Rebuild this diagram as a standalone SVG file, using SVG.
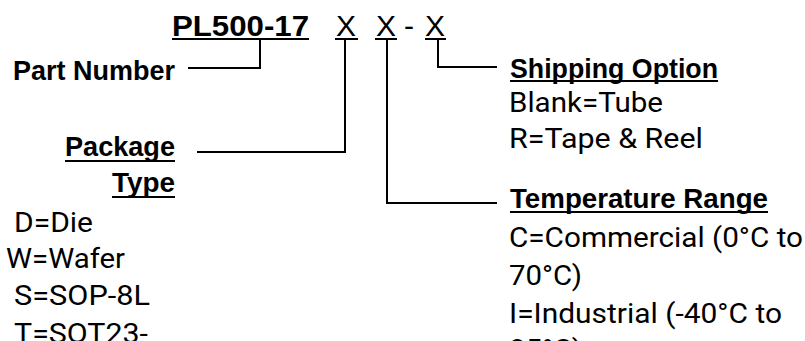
<svg xmlns="http://www.w3.org/2000/svg" width="805" height="341" viewBox="0 0 805 341">
<style>
.b{font-family:"Liberation Sans",Arial,sans-serif;font-weight:bold;font-size:28px;fill:#000}
.t{font-family:"Liberation Sans",Arial,sans-serif;font-weight:bold;font-size:30px;fill:#000}
.x{font-family:"Liberation Sans",Arial,sans-serif;font-size:30px;fill:#000}
.r{font-family:Roboto,"Liberation Sans",Arial,sans-serif;font-size:28px;fill:#000}
.u{stroke:#000;stroke-width:2;fill:none}
.c{stroke:#000;stroke-width:2;fill:none}
</style>
<rect width="805" height="341" fill="#fff"/>
<g id="title">
<text class="t" x="172" y="36" textLength="137" lengthAdjust="spacingAndGlyphs">PL500-17</text>
<text class="x" x="336" y="36">X</text>
<text class="x" x="376" y="36">X</text>
<text class="x" x="404" y="36">-</text>
<text class="x" x="425" y="36">X</text>
<line class="u" x1="172" y1="39" x2="309" y2="39"/>
<line class="u" x1="335" y1="39" x2="358" y2="39"/>
<line class="u" x1="375" y1="39" x2="397" y2="39"/>
<line class="u" x1="425" y1="39" x2="446" y2="39"/>
</g>
<g id="connectors">
<path class="c" d="M260 39V68H188"/>
<path class="c" d="M345 39V152H197"/>
<path class="c" d="M387 39V203H497"/>
<path class="c" d="M438 39V67H497"/>
</g>
<g id="part-number">
<text class="b" x="175" y="80" text-anchor="end" textLength="162" lengthAdjust="spacingAndGlyphs">Part Number</text>
</g>
<g id="package-type">
<text class="b" x="175" y="156" text-anchor="end" textLength="110" lengthAdjust="spacingAndGlyphs">Package</text>
<line class="u" x1="65" y1="161" x2="175" y2="161"/>
<text class="b" x="175" y="192" text-anchor="end" textLength="63" lengthAdjust="spacingAndGlyphs">Type</text>
<line class="u" x1="112" y1="197" x2="175" y2="197"/>
<text class="r" x="14" y="232" textLength="79" lengthAdjust="spacingAndGlyphs">D=Die</text>
<text class="r" x="6" y="268" textLength="119" lengthAdjust="spacingAndGlyphs">W=Wafer</text>
<text class="r" x="14" y="305" textLength="136" lengthAdjust="spacingAndGlyphs">S=SOP-8L</text>
<text class="r" x="14" y="343" textLength="134" lengthAdjust="spacingAndGlyphs">T=SOT23-</text>
</g>
<g id="shipping-option">
<text class="b" x="510" y="78" textLength="208" lengthAdjust="spacingAndGlyphs">Shipping Option</text>
<line class="u" x1="510" y1="81" x2="718" y2="81"/>
<text class="r" x="509" y="112" textLength="154" lengthAdjust="spacingAndGlyphs">Blank=Tube</text>
<text class="r" x="509" y="148" textLength="194" lengthAdjust="spacingAndGlyphs">R=Tape &amp; Reel</text>
</g>
<g id="temperature-range">
<text class="b" x="510" y="208" textLength="258" lengthAdjust="spacingAndGlyphs">Temperature Range</text>
<line class="u" x1="510" y1="212" x2="768" y2="212"/>
<text class="r" x="509" y="247" textLength="294" lengthAdjust="spacingAndGlyphs">C=Commercial (0°C to</text>
<text class="r" x="509" y="285" textLength="73" lengthAdjust="spacingAndGlyphs">70°C)</text>
<text class="r" x="509" y="323" textLength="273" lengthAdjust="spacingAndGlyphs">I=Industrial (-40°C to</text>
<text class="r" x="509" y="359" textLength="73" lengthAdjust="spacingAndGlyphs">85°C)</text>
</g>
</svg>
